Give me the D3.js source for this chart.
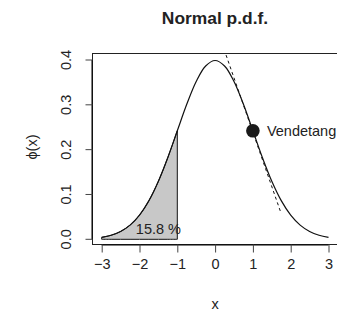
<!DOCTYPE html>
<html>
<head>
<meta charset="utf-8">
<script src="https://cdn.jsdelivr.net/npm/d3@7"></script>
<style>
  body { margin: 0; background: #fff; }
  text { font-family: "Liberation Sans", Arial, Helvetica, sans-serif; fill: #222; }
</style>
</head>
<body>
<script>
(function(){

//curve values
var xVals = [-3, -2.75, -2.5, -2.25, -2, -1.75, -1.5, -1.25, -1, -0.75, -0.5, -0.25, 0,
             0.25, 0.5, 0.75, 1, 1.25, 1.5, 1.75, 2, 2.25, 2.5, 2.75, 3];
var yVals = [0.0044, 0.0091, 0.0175, 0.0317, 0.0540, 0.0863, 0.1295, 0.1826, 0.2420, 0.3011, 0.3521, 0.3867, 0.3989,
             0.3867, 0.3521, 0.3011, 0.2420, 0.1826, 0.1295, 0.0863, 0.0540, 0.0317, 0.0175, 0.0091, 0.0044];
var shadeTo = -1;             //shaded tail ends here
var shadeLabel = "15.8 %";
var pointXY = [1, 0.242];     //marked point
var pointLabel = "Vendetang";
var tangentX = [0.29, 1.75];  //dashed tangent ends
var tangentY = [0.411, 0.057];
var xTicks = [-3, -2, -1, 0, 1, 2, 3];
var yTicks = [0.0, 0.1, 0.2, 0.3, 0.4];

var width = 337, height = 312;

var svg = d3.select("body")
    .append("svg")
    .attr("width", width)
    .attr("height", height);

//scales (plot box 92..337 x 53..244)
var x = d3.scaleLinear().domain([-3, 3]).range([101.7, 328.5]);
var y = d3.scaleLinear().domain([0, 0.4]).range([239.3, 60]);
var box = {left: 92.5, right: 337.5, top: 53.5, bottom: 244.5};

var data = xVals.map(function(d, i){ return {x: d, y: yVals[i]}; });

//shaded tail
var tail = data.filter(function(d){ return d.x <= shadeTo; });
var area = d3.area()
    .x(function(d){ return x(d.x); })
    .y0(y(0))
    .y1(function(d){ return y(d.y); })
    .curve(d3.curveCatmullRom);

svg.append("path")
    .datum(tail)
    .attr("d", area)
    .attr("fill", "#c8c8c8")
    .attr("stroke", "#111")
    .attr("stroke-width", 1);

//density curve
var line = d3.line()
    .x(function(d){ return x(d.x); })
    .y(function(d){ return y(d.y); })
    .curve(d3.curveCatmullRom);

svg.append("path")
    .datum(data)
    .attr("d", line)
    .attr("fill", "none")
    .attr("stroke", "#111")
    .attr("stroke-width", 1.2);

//tangent
svg.append("line")
    .attr("x1", x(tangentX[0])).attr("y1", y(tangentY[0]))
    .attr("x2", x(tangentX[1])).attr("y2", y(tangentY[1]))
    .attr("stroke", "#111")
    .attr("stroke-width", 1)
    .attr("stroke-dasharray", "3,3");

//point and labels
svg.append("circle")
    .attr("cx", x(pointXY[0]))
    .attr("cy", y(pointXY[1]))
    .attr("r", 6.8)
    .attr("fill", "#1a1a1a");

svg.append("text")
    .attr("x", x(pointXY[0]) + 14)
    .attr("y", y(pointXY[1]) + 5)
    .style("font-size", "14.5px")
    .text(pointLabel);

svg.append("text")
    .attr("x", x(-1.5))
    .attr("y", y(0.012))
    .attr("text-anchor", "middle")
    .style("font-size", "14.5px")
    .text(shadeLabel);

//plot box
svg.append("rect")
    .attr("x", box.left)
    .attr("y", box.top)
    .attr("width", box.right - box.left)
    .attr("height", box.bottom - box.top)
    .attr("fill", "none")
    .attr("stroke", "#222")
    .attr("stroke-width", 1);

//x axis
var xAxis = svg.append("g")
    .attr("transform", "translate(0," + box.bottom + ")")
    .call(d3.axisBottom(x).tickValues(xTicks).tickSize(8).tickPadding(6)
        .tickFormat(function(d){ return d < 0 ? "\u2212" + Math.abs(d) : d; }));
xAxis.select(".domain").attr("d", "M" + x(-3) + ",0.5H" + x(3));
xAxis.selectAll("line").attr("stroke", "#444");
xAxis.selectAll("text").style("font-size", "14.5px").attr("fill", "#222")
    .style("font-family", "'Liberation Sans', Arial, sans-serif");

//y axis
var yAxis = svg.append("g")
    .attr("transform", "translate(" + box.left + ",0)")
    .call(d3.axisLeft(y).tickValues(yTicks).tickSize(7).tickFormat(d3.format(".1f")));
yAxis.select(".domain").attr("d", "M-0.5," + y(0) + "V" + y(0.4));
yAxis.selectAll("line").attr("stroke", "#444");
yAxis.selectAll("text")
    .attr("x", null).attr("dy", null)
    .attr("text-anchor", "middle")
    .attr("transform", function(d){ return "translate(" + (-21.5) + "," + y(d) + ") rotate(-90)"; })
    .attr("y", 0)
    .style("font-size", "14.5px").attr("fill", "#222")
    .style("font-family", "'Liberation Sans', Arial, sans-serif");
yAxis.selectAll(".tick").attr("transform", null);
yAxis.selectAll(".tick line")
    .attr("y1", function(d){ return y(d); })
    .attr("y2", function(d){ return y(d); });

//titles
svg.append("text")
    .attr("x", 215)
    .attr("y", 24)
    .attr("text-anchor", "middle")
    .style("font-size", "17.4px")
    .style("font-weight", "bold")
    .text("Normal p.d.f.");

svg.append("text")
    .attr("x", 215)
    .attr("y", 308.5)
    .attr("text-anchor", "middle")
    .style("font-size", "14.5px")
    .text("x");

svg.append("text")
    .attr("transform", "translate(37,147) rotate(-90)")
    .attr("text-anchor", "middle")
    .style("font-size", "14.5px")
    .text("\u03d5(x)");

})();
</script>
</body>
</html>
